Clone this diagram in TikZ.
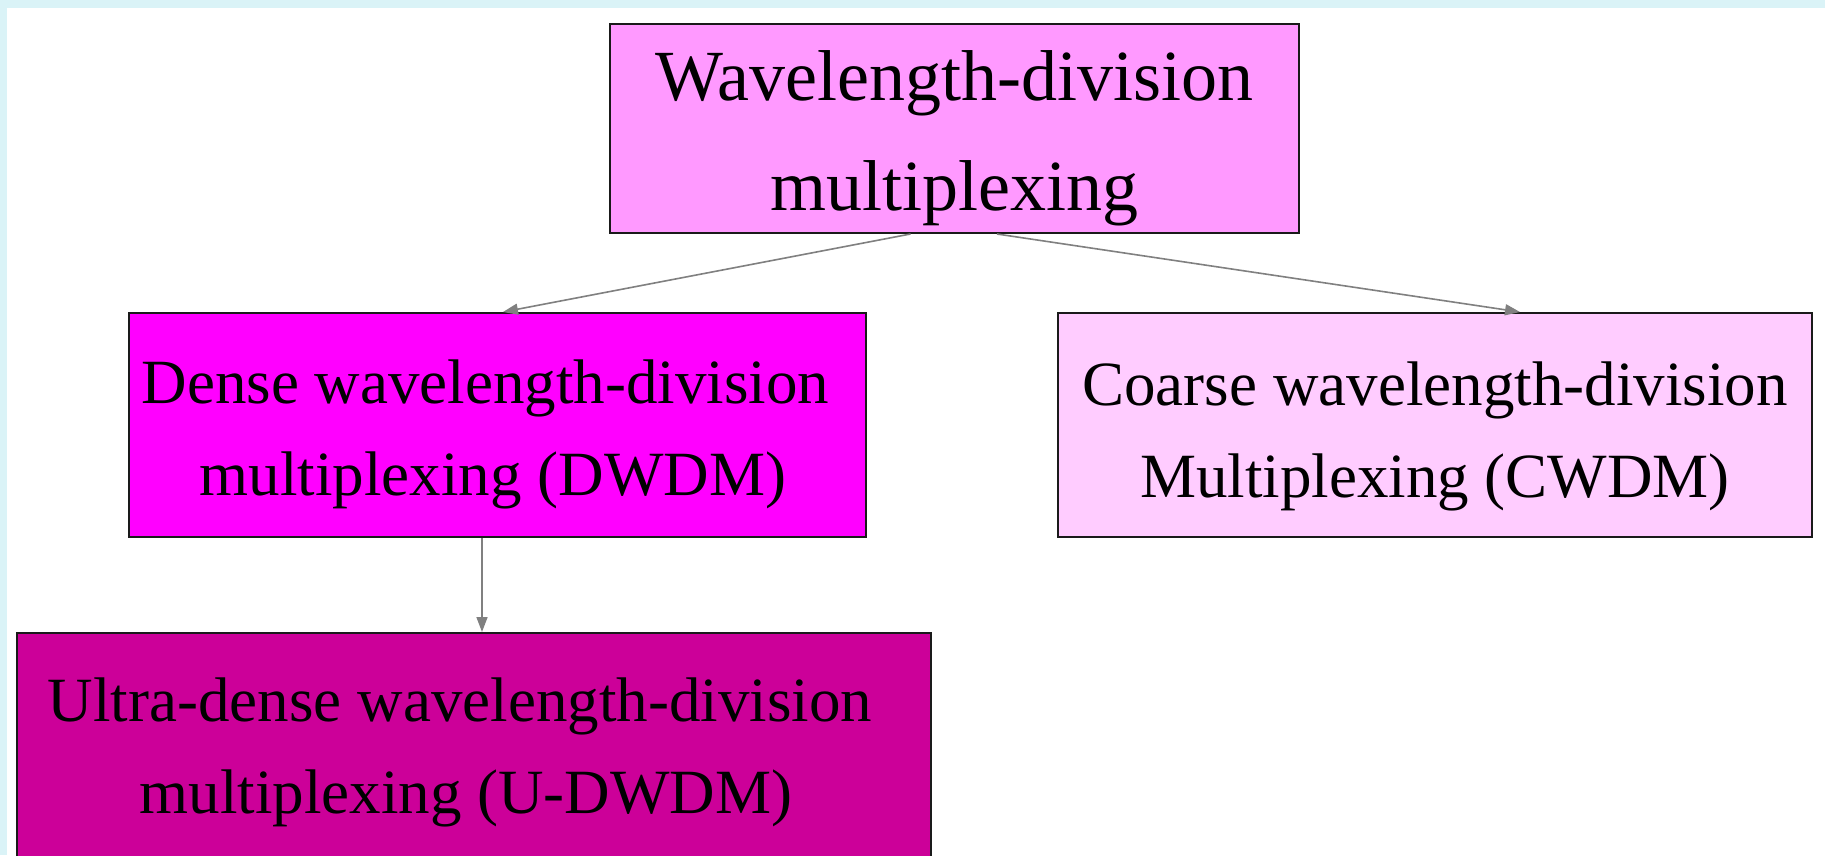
\documentclass[tikz,border=0pt]{standalone}
\usepackage{fontspec}
\setmainfont{Liberation Serif}
\usetikzlibrary{arrows.meta,calc}
\definecolor{framecol}{HTML}{DAF3F7}
\definecolor{cwdm}{HTML}{FF99FF}
\definecolor{cdense}{HTML}{FF00FF}
\definecolor{ccoarse}{HTML}{FFCCFF}
\definecolor{cultra}{HTML}{CC0099}
\definecolor{arrcol}{HTML}{808080}
\definecolor{edgecol}{HTML}{1A1A1A}
\begin{document}
\begin{tikzpicture}[x=1pt,y=-1pt,
  box/.style={draw=edgecol, line width=2pt, inner sep=0pt, align=center,
    font=\fontsize{63}{92}\selectfont, text height=156pt, text depth=14pt},
  conn/.style={draw=arrcol, line width=1.6pt, -{Triangle[length=15pt,width=11pt]}}]
\useasboundingbox (0,0) rectangle (1825,855);
\clip (0,0) rectangle (1825,855);
\fill[white] (0,0) rectangle (1825,855);
\fill[framecol] (0,0) rectangle (1825,8);
\fill[framecol] (0,0) rectangle (7,855);

\node[box, fill=cwdm, minimum width=689pt, minimum height=209pt,
  font=\fontsize{72}{110}\selectfont, text height=179pt, text depth=16pt]
  (wdm) at (954.5,128.5) {Wavelength-division\\multiplexing};

\node[box, fill=cdense, minimum width=737pt, minimum height=224pt, text height=154pt]
  (dwdm) at (497.5,425) {Dense wavelength-division\hspace*{24pt}\\multiplexing (DWDM)\hspace*{9pt}};

\node[box, fill=ccoarse, minimum width=754pt, minimum height=224pt, text height=158pt]
  (cw) at (1435,425) {Coarse wavelength-division\\Multiplexing (CWDM)};

\node[box, fill=cultra, minimum width=914pt, minimum height=227pt, text height=147pt]
  (udwdm) at (474,746.5) {Ultra-dense wavelength-division\hspace*{28pt}\\multiplexing (U-DWDM)\hspace*{16pt}};

\draw[conn] ($(wdm.south)+(-44,0)$) -- ($(dwdm.north)+(5.5,0)$);
\draw[conn] ($(wdm.south)+(42.5,0)$) -- ($(cw.north)+(85,0)$);
\draw[conn] ($(dwdm.south)+(-15.5,0)$) -- ($(udwdm.north)+(8,0)$);
\end{tikzpicture}
\end{document}
